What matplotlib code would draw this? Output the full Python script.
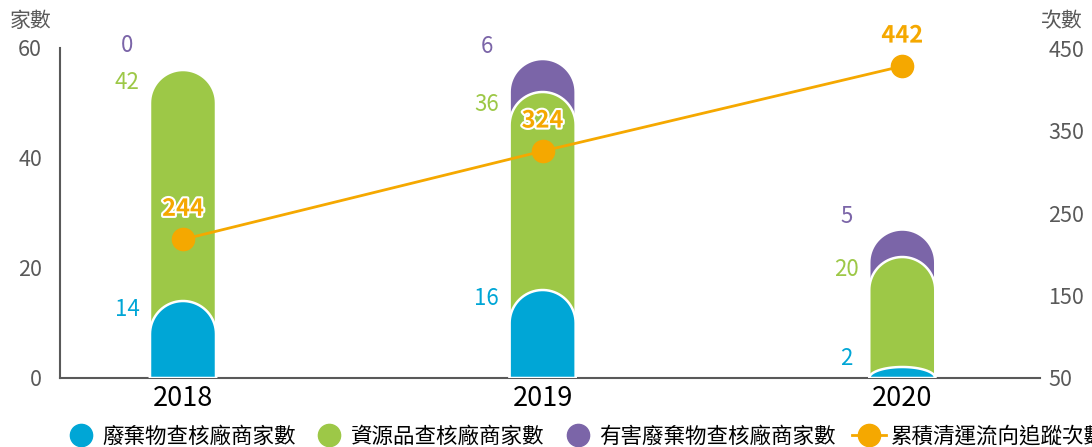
import numpy as np
import matplotlib
matplotlib.use('Agg')
import matplotlib.pyplot as plt
from matplotlib.path import Path
from matplotlib.patches import PathPatch
from matplotlib.lines import Line2D
import matplotlib.patheffects as pe

plt.rcParams['font.family'] = ['Noto Sans CJK TC', 'DejaVu Sans']

# %% data
years = ['2018', '2019', '2020']
waste_firms = [14, 16, 2]          # 廢棄物查核廠商家數
resource_firms = [42, 36, 20]      # 資源品查核廠商家數
hazard_firms = [0, 6, 5]           # 有害廢棄物查核廠商家數
trace_labels = [244, 324, 442]     # 累積清運流向追蹤次數 (labels)
trace_plotted = [218, 325, 428]    # where the points sit on the right axis

series_names = ['廢棄物查核廠商家數', '資源品查核廠商家數', '有害廢棄物查核廠商家數', '累積清運流向追蹤次數']
colors = ['#00A6D6', '#9DC847', '#7B65A8']
line_color = '#F5A800'
grey = '#595959'

W, H = 1092, 447
fig = plt.figure(figsize=(W / 100, H / 100), dpi=100)
ax = fig.add_axes([60 / W, (H - 378) / H, (1040 - 60) / W, (378 - 48) / H])
ax2 = ax.twinx()

x = np.arange(len(years))
ax.set_xlim(-0.342, 2.383)
ax.set_ylim(0, 60)
ax2.set_ylim(50, 450)

# pixel scales so the bar caps come out round
px_x = (1040 - 60) / (2.383 + 0.342)
px_y = (378 - 48) / 60.0
bar_w = 66 / px_x
ry_full = 33 / px_y


def round_bar(cx, top, color, z):
    hw = bar_w / 2
    ry = min(ry_full, top)
    t = np.linspace(np.pi, 0, 40)
    xs = np.concatenate([[cx - hw, cx - hw], cx + hw * np.cos(t), [cx + hw, cx + hw]])
    ys = np.concatenate([[0, top - ry], top - ry + ry * np.sin(t), [top - ry, 0]])
    verts = np.column_stack([xs, ys])
    verts = np.vstack([verts, verts[:1]])
    codes = [Path.MOVETO] + [Path.LINETO] * (len(verts) - 2) + [Path.CLOSEPOLY]
    ax.add_patch(PathPatch(Path(verts, codes), facecolor=color, edgecolor='white',
                           lw=1.8, zorder=z))


tops1 = np.array(waste_firms)
tops2 = tops1 + np.array(resource_firms)
tops3 = tops2 + np.array(hazard_firms)
for i in range(len(years)):
    if hazard_firms[i] > 0:
        round_bar(x[i], tops3[i], colors[2], 2)
    round_bar(x[i], tops2[i], colors[1], 3)
    round_bar(x[i], tops1[i], colors[0], 4)

# value labels left of the bars
lx = 56 / px_x
for i in range(len(years)):
    ax.text(x[i] - lx, max(tops1[i] - 1.6, 3.6), str(waste_firms[i]), color=colors[0],
            ha='center', va='center', fontsize=16)
    ax.text(x[i] - lx, tops2[i] - 2.3, str(resource_firms[i]), color=colors[1],
            ha='center', va='center', fontsize=16)
    off = 4.5 if hazard_firms[i] == 0 else 2.3
    ax.text(x[i] - lx, tops3[i] + off, str(hazard_firms[i]), color=colors[2],
            ha='center', va='center', fontsize=16)

# line on the right axis
ax2.plot(x, trace_plotted, color=line_color, lw=2, marker='o', ms=16, zorder=6)
for i in range(len(years)):
    ax2.annotate(str(trace_labels[i]), (x[i], trace_plotted[i]), xytext=(0, 22),
                 textcoords='offset points', ha='center', va='center',
                 color=line_color, fontsize=17, fontweight='bold',
                 path_effects=[pe.withStroke(linewidth=3, foreground='white')])
ax.set_zorder(1)
ax2.set_zorder(2)
ax2.patch.set_visible(False)

# axes styling
for a in (ax, ax2):
    a.spines['top'].set_visible(False)
    a.spines['right'].set_visible(False)
ax2.spines['left'].set_visible(False)
ax2.spines['bottom'].set_visible(False)
ax.spines['left'].set_color(grey)
ax.spines['bottom'].set_color(grey)
ax.spines['left'].set_linewidth(1.5)
ax.spines['bottom'].set_linewidth(1.5)

ax.set_xticks(x)
ax.set_xticklabels(years, fontsize=19.5, color='black')
ax.tick_params(axis='x', length=0, pad=5)
ax.set_yticks([0, 20, 40, 60])
ax.tick_params(axis='y', length=0, pad=13, labelsize=15.5, labelcolor=grey)
ax2.set_yticks([50, 150, 250, 350, 450])
ax2.tick_params(axis='y', length=0, pad=6, labelsize=15.5, labelcolor=grey)

fig.text(31 / W, 1 - 21 / H, '家數', ha='center', va='center', fontsize=15, color=grey)
fig.text(1062 / W, 1 - 21 / H, '次數', ha='center', va='center', fontsize=15, color=grey)

handles = [Line2D([], [], color=c, marker='o', ls='none', ms=16) for c in colors]
handles.append(Line2D([], [], color=line_color, marker='o', lw=2, ms=16))
fig.legend(handles, series_names, loc='lower left', bbox_to_anchor=(55 / W, -0.02),
           ncol=4, frameon=False, fontsize=15.5, handlelength=1.6, handletextpad=0.2,
           columnspacing=0.75, borderaxespad=0)

fig.savefig('out.png', dpi=100)
